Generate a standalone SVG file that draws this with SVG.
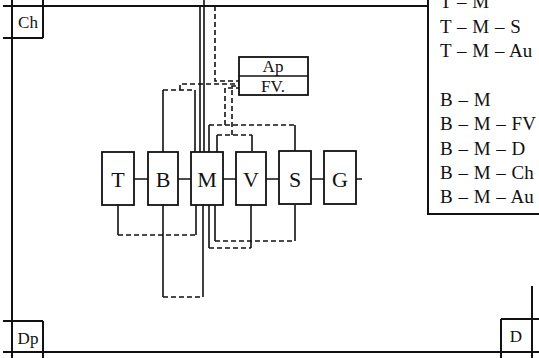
<svg xmlns="http://www.w3.org/2000/svg" width="539" height="358" viewBox="0 0 539 358">
<style>
.s{fill:none;stroke:#111;stroke-width:1.6}
.f{fill:none;stroke:#111;stroke-width:2}
.d{fill:none;stroke:#111;stroke-width:1.6;stroke-dasharray:5,3}
.b{fill:#fff;stroke:#111;stroke-width:1.8}
.t{font-family:"Liberation Serif","Times New Roman",serif;fill:#111;text-anchor:middle}
.l{font-family:"Liberation Serif","Times New Roman",serif;fill:#111;font-size:19px;word-spacing:1px}
</style>
<rect width="539" height="358" fill="#fff"/>
<g id="frame">
<path class="f" d="M12,0V358M43,0V38M3,38H43M3,6H428M428,0V214H539M3,321H43M43,321V358M3,352H539M501,319H539M501,319V358M532,286V358"/>
<text class="t" x="28" y="28" font-size="17">Ch</text>
<text class="t" x="28" y="344" font-size="17">Dp</text>
<text class="t" x="516" y="342" font-size="17">D</text>
</g>
<g id="legend">
<text class="l" x="440" y="8">T – M</text>
<text class="l" x="440" y="33">T – M – S</text>
<text class="l" x="440" y="57">T – M – Au</text>
<text class="l" x="440" y="106">B – M</text>
<text class="l" x="440" y="130">B – M – FV</text>
<text class="l" x="440" y="155">B – M – D</text>
<text class="l" x="440" y="179">B – M – Ch</text>
<text class="l" x="440" y="203">B – M – Au</text>
</g>
<g id="connectors">
<path class="s" d="M134,179H148M178,179H191M223,179H236M266,179H279M311,179H324M356,179H362"/>
<path class="s" d="M163,152V90M195,152V90M200,152V6M204,152V0M209,152V125M217,152V135M252,151V135M295,151V125"/>
<path class="d" d="M163,90H195M180,90V84H239M215,6V81H239M209,125H295M225,125V88H239M217,135H252M232,135V86H239"/>
<path class="s" d="M118,205V235M196,205V235M163,205V297M203,205V297M209,205V248M251,205V248M215,205V241M295,205V241"/>
<path class="d" d="M118,235H196M163,297H203M209,248H251M215,241H295"/>
</g>
<g id="ApFV">
<rect class="b" x="239" y="57" width="69" height="38"/>
<line class="s" x1="239" y1="76" x2="308" y2="76"/>
<text class="t" x="273" y="72" font-size="17">Ap</text>
<text class="t" x="273" y="92" font-size="17">FV.</text>
</g>
<g id="T"><rect class="b" x="102" y="152" width="32" height="53"/><text class="t" x="118" y="187" font-size="22">T</text></g>
<g id="B"><rect class="b" x="148" y="152" width="30" height="53"/><text class="t" x="163" y="187" font-size="22">B</text></g>
<g id="M"><rect class="b" x="191" y="152" width="32" height="53"/><text class="t" x="207" y="187" font-size="22">M</text></g>
<g id="V"><rect class="b" x="236" y="152" width="30" height="53"/><text class="t" x="251" y="187" font-size="22">V</text></g>
<g id="S"><rect class="b" x="279" y="151" width="32" height="53"/><text class="t" x="295" y="187" font-size="22">S</text></g>
<g id="G"><rect class="b" x="324" y="151" width="32" height="53"/><text class="t" x="340" y="187" font-size="22">G</text></g>
</svg>
